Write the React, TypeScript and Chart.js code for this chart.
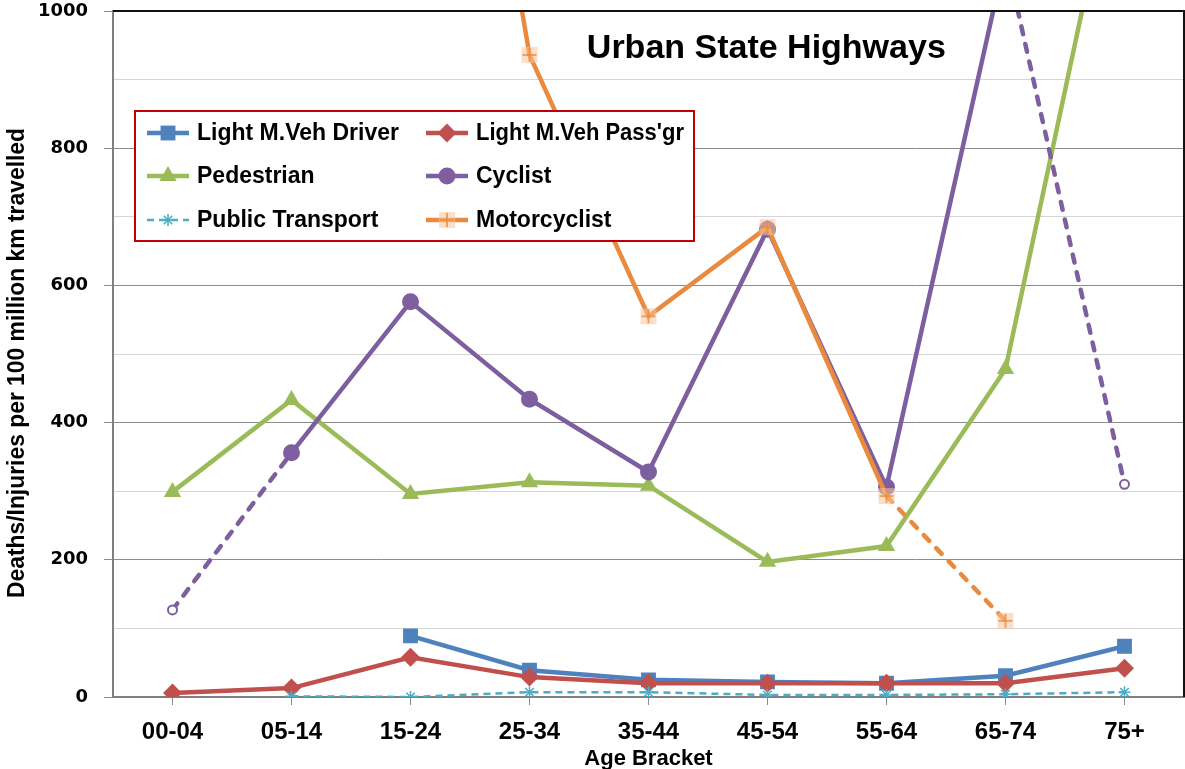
import React, { useEffect, useRef } from "react";
import { Chart, registerables } from "chart.js";
import { drawPoint } from "chart.js/helpers";

Chart.register(...registerables);

const categories = ["00-04", "05-14", "15-24", "25-34", "35-44", "45-54", "55-64", "65-74", "75+"];
const driver = [null, null, 89, 39, 25, 22, 20, 31, 74];
const passenger = [6, 13, 58, 29, 20, 20, 20, 20, 42];
const pedestrian = [299, 433, 296, 313, 308, 197, 220, 478, 1290];
const cyclist = [127, 356, 576, 434, 328, 682, 306, 1080, 310];
const publicTransport = [null, 1, 0, 7, 7, 3, 3, 4, 7];
const motorcyclist = [null, null, 1950, 936, 555, 685, 293, 111, null];
const seriesNames = ["Light M.Veh Driver", "Light M.Veh Pass'gr", "Pedestrian", "Cyclist", "Public Transport", "Motorcyclist"];
const yMin = 0;
const yMax = 1000;
const yStep = 100;
const yLabelStep = 200;
const chartTitle = "Urban State Highways";
const xTitle = "Age Bracket";
const yTitle = "Deaths/Injuries per 100 million km travelled";

const BLUE = "#4f81bd";
const RED = "#c0504d";
const GREEN = "#9bbb59";
const PURPLE = "#7d5fa0";
const AQUA = "#4bacc6";
const ORANGE = "#ea8a3e";
const FONT = "'Liberation Sans', Arial, sans-serif";

function makeMotoMarker(): HTMLCanvasElement {
  const c = document.createElement("canvas");
  c.width = 18;
  c.height = 18;
  const g = c.getContext("2d")!;
  g.fillStyle = "rgba(249,196,155,0.55)";
  g.fillRect(1, 1, 16, 16);
  g.strokeStyle = ORANGE;
  g.lineWidth = 1.5;
  g.beginPath();
  g.moveTo(2, 9);
  g.lineTo(16, 9);
  g.moveTo(9, 2);
  g.lineTo(9, 16);
  g.stroke();
  return c;
}

export default function App() {
  const ref = useRef<HTMLCanvasElement | null>(null);

  useEffect(() => {
    const canvas = ref.current!;
    const moto = makeMotoMarker();
    const lastIdx = categories.length - 1;

    const overlay = {
      id: "overlay",
      afterDraw(chart: any) {
        const ctx = chart.ctx;
        const a = chart.chartArea;
        ctx.save();
        // plot frame top/right
        ctx.strokeStyle = "#111";
        ctx.lineWidth = 2;
        ctx.beginPath();
        ctx.moveTo(a.left, a.top);
        ctx.lineTo(a.right, a.top);
        ctx.lineTo(a.right, a.bottom);
        ctx.stroke();

        // title
        ctx.fillStyle = "#000";
        ctx.font = `bold 34px ${FONT}`;
        ctx.textAlign = "center";
        ctx.textBaseline = "middle";
        ctx.fillText(chartTitle, a.left + (a.right - a.left) * 0.61, a.top + 38);

        // x title
        ctx.font = `bold 22px ${FONT}`;
        ctx.fillText(xTitle, (a.left + a.right) / 2, 759);

        // y title
        ctx.save();
        ctx.translate(18, (a.top + a.bottom) / 2 + 9);
        ctx.rotate(-Math.PI / 2);
        ctx.font = `bold 23px ${FONT}`;
        ctx.fillText(yTitle, 0, 0, 470);
        ctx.restore();

        // legend
        const bx = a.left + 22, by = a.top + 100, bw = 559, bh = 130;
        ctx.fillStyle = "#fff";
        ctx.fillRect(bx, by, bw, bh);
        ctx.strokeStyle = "#c00000";
        ctx.lineWidth = 2;
        ctx.strokeRect(bx, by, bw, bh);
        const colX = [bx + 33, bx + 312];
        const rowY = [by + 22, by + 65, by + 109];
        chart.data.datasets.forEach((ds: any, i: number) => {
          const cx = colX[i % 2];
          const cy = rowY[Math.floor(i / 2)];
          ctx.save();
          ctx.strokeStyle = ds.borderColor;
          ctx.lineWidth = ds.borderWidth;
          ctx.setLineDash(ds.borderDash || []);
          ctx.beginPath();
          ctx.moveTo(cx - 21, cy);
          ctx.lineTo(cx + 21, cy);
          ctx.stroke();
          ctx.setLineDash([]);
          ctx.fillStyle = ds.legendFill;
          ctx.strokeStyle = ds.borderColor;
          ctx.lineWidth = ds.legendPointBorder;
          drawPoint(ctx, { pointStyle: ds.legendStyle, rotation: 0, radius: ds.legendRadius, borderWidth: ds.legendPointBorder }, cx, cy);
          ctx.restore();
          ctx.fillStyle = "#000";
          ctx.font = `bold 23px ${FONT}`;
          ctx.textAlign = "left";
          ctx.textBaseline = "middle";
          ctx.fillText(seriesNames[i], cx + 29, cy + 1, 208);
        });
        ctx.restore();
      },
    };

    const cyclistHollow = (c: any) => c.dataIndex === 0 || c.dataIndex === lastIdx;

    const chart = new Chart(canvas, {
      type: "line",
      data: {
        labels: categories,
        datasets: [
          {
            label: seriesNames[0], data: driver, borderColor: BLUE, backgroundColor: BLUE, borderWidth: 4.5,
            pointStyle: "rect", pointRadius: 10.5, pointBorderWidth: 0, order: 6,
            legendStyle: "rect", legendRadius: 10.5, legendFill: BLUE, legendPointBorder: 0,
          } as any,
          {
            label: seriesNames[1], data: passenger, borderColor: RED, backgroundColor: RED, borderWidth: 4.5,
            pointStyle: "rectRot", pointRadius: 9.5, pointBorderWidth: 0, order: 5,
            legendStyle: "rectRot", legendRadius: 9.5, legendFill: RED, legendPointBorder: 0,
          } as any,
          {
            label: seriesNames[2], data: pedestrian, borderColor: GREEN, backgroundColor: GREEN, borderWidth: 4.5,
            pointStyle: "triangle", pointRadius: 10, pointBorderWidth: 0, order: 4,
            legendStyle: "triangle", legendRadius: 10, legendFill: GREEN, legendPointBorder: 0,
          } as any,
          {
            label: seriesNames[3], data: cyclist, borderColor: PURPLE, borderWidth: 4.5,
            pointStyle: "circle",
            pointRadius: (c: any) => (cyclistHollow(c) ? 4.5 : 8.5),
            pointBackgroundColor: (c: any) => (cyclistHollow(c) ? "#fff" : PURPLE),
            pointBorderColor: PURPLE,
            pointBorderWidth: (c: any) => (cyclistHollow(c) ? 2 : 0),
            borderCapStyle: "round",
            segment: {
              borderDash: (c: any) => (c.p0DataIndex === 0 || c.p1DataIndex === lastIdx ? [8, 10] : undefined),
            },
            order: 3,
            legendStyle: "circle", legendRadius: 8.5, legendFill: PURPLE, legendPointBorder: 0,
          } as any,
          {
            label: seriesNames[4], data: publicTransport, borderColor: AQUA, backgroundColor: AQUA, borderWidth: 2.5,
            borderDash: [7, 5], pointStyle: "star", pointRadius: 6, pointBorderWidth: 1.5, order: 2,
            legendStyle: "star", legendRadius: 6, legendFill: AQUA, legendPointBorder: 1.5,
          } as any,
          {
            label: seriesNames[5], data: motorcyclist, borderColor: ORANGE, backgroundColor: ORANGE, borderWidth: 4.5,
            pointStyle: moto, pointRadius: 9, order: 1,
            borderCapStyle: "round",
            segment: {
              borderDash: (c: any) => (c.p0DataIndex === 6 ? [8, 10] : undefined),
            },
            legendStyle: moto, legendRadius: 9, legendFill: ORANGE, legendPointBorder: 0,
          } as any,
        ],
      },
      options: {
        responsive: false,
        animation: false,
        events: [],
        layout: { autoPadding: false, padding: { top: 11, right: 1, left: 0, bottom: 0 } },
        plugins: { legend: { display: false }, title: { display: false }, tooltip: { enabled: false } },
        scales: {
          x: {
            offset: true,
            grid: { drawOnChartArea: false, drawTicks: true, tickLength: 8, color: "#8c8c8c" },
            border: { color: "#7f7f7f", width: 2 },
            ticks: { color: "#000", font: { family: FONT, weight: "bold", size: 24 }, padding: 13, maxRotation: 0, autoSkip: false },
            afterFit: (s: any) => {
              s.height = 72;
              s.paddingLeft = 0;
              s.paddingRight = 0;
            },
          },
          y: {
            min: yMin,
            max: yMax,
            ticks: {
              stepSize: yStep,
              color: "#000",
              padding: 16,
              font: { family: "'DejaVu Sans', Verdana, sans-serif", weight: "bold", size: 18 },
              callback: (v: any) => (Number(v) % yLabelStep === 0 ? String(v) : ""),
            },
            grid: {
              tickLength: 9,
              color: (c: any) => (c.tick.value === yMax ? "rgba(0,0,0,0)" : c.tick.value % yLabelStep === 0 ? "#8c8c8c" : "#d6d6d6"),
              tickColor: (c: any) => (c.tick.value % yLabelStep === 0 ? "#8c8c8c" : "rgba(0,0,0,0)"),
            },
            border: { color: "#7f7f7f", width: 2 },
            afterFit: (s: any) => {
              s.width = 113;
              s.paddingTop = 0;
              s.paddingBottom = 0;
            },
          },
        },
      } as any,
      plugins: [overlay],
    });
    return () => chart.destroy();
  }, []);

  return (
    <div style={{ position: "absolute", left: 0, top: 0, width: 1185, height: 769, background: "#fff" }}>
      <canvas ref={ref} width={1185} height={769} style={{ display: "block", width: 1185, height: 769 }} />
    </div>
  );
}
